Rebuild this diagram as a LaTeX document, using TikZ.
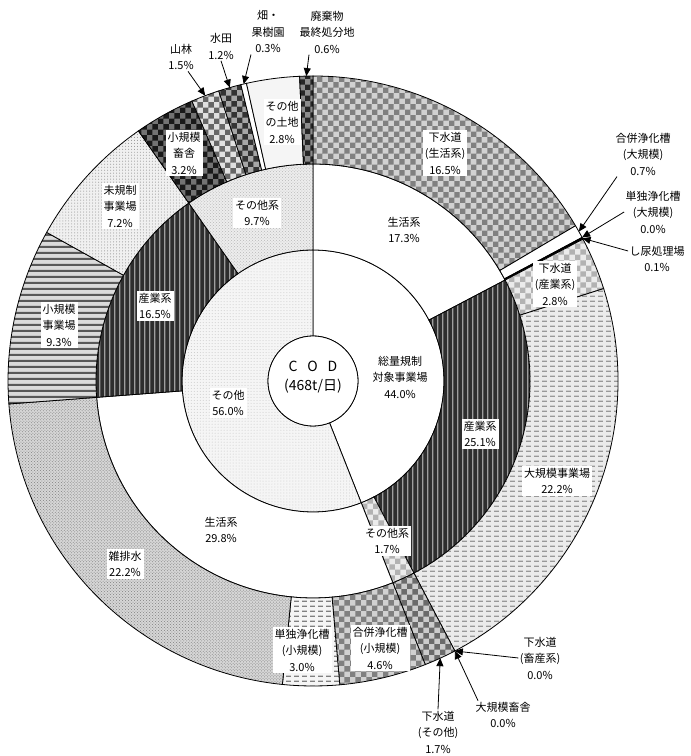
\documentclass[tikz,border=0pt]{standalone}
\usepackage{fontspec}
\setmainfont{Noto Sans CJK JP}
\usetikzlibrary{arrows.meta,patterns}

\pgfdeclarepatternformonly{hstripes}{\pgfpointorigin}{\pgfqpoint{10pt}{6pt}}{\pgfqpoint{10pt}{6pt}}{\pgfpathrectangle{\pgfpointorigin}{\pgfqpoint{10pt}{2.2pt}}\pgfusepath{fill}}
\pgfdeclarepatternformonly{vbars}{\pgfpointorigin}{\pgfqpoint{4.5pt}{10pt}}{\pgfqpoint{4.5pt}{10pt}}{\pgfpathrectangle{\pgfpointorigin}{\pgfqpoint{1.6pt}{10pt}}\pgfusepath{fill}}
\pgfdeclarepatternformonly{hdashes}{\pgfpointorigin}{\pgfqpoint{8pt}{5pt}}{\pgfqpoint{8pt}{5pt}}{\pgfpathrectangle{\pgfpointorigin}{\pgfqpoint{5pt}{1.5pt}}\pgfusepath{fill}}

\newcommand{\lblfont}{\fontsize{11bp}{16.5bp}\selectfont}
\newcommand{\codfont}{\fontsize{14bp}{19bp}\selectfont}
% ring part: [style]{inner r}{outer r}{from %}{to %}, clockwise from top
\newcommand{\ringpart}[5][]{%
  \path[draw,#1] ({90-3.6*#4}:#3) arc[start angle={90-3.6*#4},end angle={90-3.6*#5},radius=#3]
    -- ({90-3.6*#5}:#2) arc[start angle={90-3.6*#5},end angle={90-3.6*#4},radius=#2] -- cycle;}

\begin{document}
\begin{tikzpicture}[x=1bp,y=1bp,line width=0.8bp,
  sewerpat/.style={preaction={fill=black!18},pattern=checkerboard,pattern color=black!50},
  sewerltpat/.style={preaction={fill=black!8},pattern=checkerboard,pattern color=black!30},
  sewerdkpat/.style={preaction={fill=black!20},pattern=checkerboard,pattern color=black!58},
  indpat/.style={preaction={fill=black!82},pattern=vbars,pattern color=black!38},
  bigbizpat/.style={preaction={fill=black!8},pattern=hdashes,pattern color=black!40},
  tandokupat/.style={preaction={fill=black!4},pattern=hdashes,pattern color=black!50},
  zappaipat/.style={preaction={fill=black!16},pattern=crosshatch dots,pattern color=black!50},
  smallbizpat/.style={preaction={fill=black!14},pattern=hstripes,pattern color=black!65},
  unregpat/.style={preaction={fill=black!6},pattern=dots,pattern color=black!45},
  livepat/.style={preaction={fill=black!55},pattern=checkerboard,pattern color=black!90},
  forestpat/.style={preaction={fill=black!12},pattern=checkerboard,pattern color=black!60},
  paddypat/.style={preaction={fill=black!35},pattern=checkerboard,pattern color=black!80},
  wastepat/.style={preaction={fill=black!45},pattern=checkerboard,pattern color=black!85},
  otherpat/.style={preaction={fill=black!4},pattern=dots,pattern color=black!22},
  otherltpat/.style={preaction={fill=black!7},pattern=crosshatch dots,pattern color=black!28},
  lbl/.style={align=center,fill=white,inner sep=2bp,font=\lblfont},
  outlbl/.style={align=center,inner sep=1bp,font=\lblfont},
  arr/.style={-{Triangle[length=8bp,width=7bp]}}]
\useasboundingbox (0,0) rectangle (691,756);
\begin{scope}[shift={(313,375)}]
% inner ring
\ringpart[fill=white]{45}{131}{0}{44}
\ringpart[otherpat]{45}{131}{44}{100}
% middle ring
\ringpart[fill=white]{131}{217}{0}{17.3}
\ringpart[indpat]{131}{217}{17.3}{42.3}
\ringpart[sewerltpat]{131}{217}{42.3}{44}
\ringpart[fill=white]{131}{217}{44}{73.8}
\ringpart[indpat]{131}{217}{73.8}{90.3}
\ringpart[otherltpat]{131}{217}{90.3}{100}
% outer ring
\ringpart[sewerpat]{217}{305}{0}{16.5}
\ringpart[fill=white]{217}{305}{16.5}{17.2}
\ringpart[fill=black]{217}{305}{17.2}{17.3}
\ringpart[sewerltpat]{217}{305}{17.3}{20.1}
\ringpart[bigbizpat]{217}{305}{20.1}{42.3}
\ringpart[sewerdkpat]{217}{305}{42.3}{44}
\ringpart[sewerpat]{217}{305}{44}{48.6}
\ringpart[tandokupat]{217}{305}{48.6}{51.6}
\ringpart[zappaipat]{217}{305}{51.6}{73.8}
\ringpart[smallbizpat]{217}{305}{73.8}{83.1}
\ringpart[unregpat]{217}{305}{83.1}{90.3}
\ringpart[livepat]{217}{305}{90.3}{93.5}
\ringpart[forestpat]{217}{305}{93.5}{95}
\ringpart[paddypat]{217}{305}{95}{96.2}
\ringpart[fill=white]{217}{305}{96.2}{96.5}
\ringpart[fill=black!4]{217}{305}{96.5}{99.3}
\ringpart[wastepat]{217}{305}{99.3}{100}
% centre
\draw[fill=white] (0,0) circle[radius=45];
\node[font=\codfont,align=center,inner sep=0pt] (cod) at (0,4) {C\hspace{.7em}O\hspace{.7em}D\\(468t/日)};
% arrow targets on the rim
\coordinate (wastept) at ({90-3.6*99.65}:305);
\coordinate (hatapt) at ({90-3.6*96.35}:305);
\coordinate (paddypt) at ({90-3.6*95.6}:305);
\coordinate (forestpt) at ({90-3.6*94.25}:305);
\coordinate (gappeipt) at ({90-3.6*16.85}:305);
\coordinate (tandokupt) at ({90-3.6*17.2}:305);
\coordinate (shinyopt) at ({90-3.6*17.25}:305);
\coordinate (chikusanpt) at ({90-3.6*42.3}:305);
\coordinate (chikushapt) at ({90-3.6*42.3}:305);
\coordinate (sewerotherpt) at ({90-3.6*43.15}:305);
\end{scope}

% labels in the rings
\node[lbl] (sewerlife) at (445,603) {下水道\\(生活系)\\16.5\%};
\node[lbl] (otherland) at (282,634) {その他\\の土地\\2.8\%};
\node[lbl] (lifeA) at (404,526) {生活系\\17.3\%};
\node[lbl] (sewerind) at (555,472) {下水道\\(産業系)\\2.8\%};
\node[lbl] (bigbiz) at (557,275) {大規模事業場\\22.2\%};
\node[lbl] (indA) at (480,322) {産業系\\25.1\%};
\node[lbl] (regulated) at (400,379) {総量規制\\対象事業場\\44.0\%};
\node[lbl] (otherall) at (228,353) {その他\\56.0\%};
\node[lbl] (indB) at (155,450) {産業系\\16.5\%};
\node[lbl] (smallbiz) at (59,431) {小規模\\事業場\\9.3\%};
\node[lbl] (unreg) at (120,550) {未規制\\事業場\\7.2\%};
\node[lbl] (livestock) at (184,603) {小規模\\畜舎\\3.2\%};
\node[lbl] (otherB) at (257,543) {その他系\\9.7\%};
\node[lbl] (lifeB) at (221,226) {生活系\\29.8\%};
\node[lbl] (zappai) at (125,192) {雑排水\\22.2\%};
\node[lbl] (otherA) at (387,215) {その他系\\1.7\%};
\node[lbl] (tandokusmall) at (302,106) {単独浄化槽\\(小規模)\\3.0\%};
\node[lbl] (gappeismall) at (380,108) {合併浄化槽\\(小規模)\\4.6\%};

% labels outside with arrows
\node[outlbl] (waste) at (327,724) {廃棄物\\最終処分地\\0.6\%};
\node[outlbl] (hata) at (268,724) {畑・\\果樹園\\0.3\%};
\node[outlbl] (paddy) at (221,709.5) {水田\\1.2\%};
\node[outlbl] (forest) at (181,699) {山林\\1.5\%};
\node[outlbl] (gappeibig) at (643,602) {合併浄化槽\\(大規模)\\0.7\%};
\node[outlbl] (tandokubig) at (653,544) {単独浄化槽\\(大規模)\\0.0\%};
\node[outlbl] (shinyo) at (657,497) {し尿処理場\\0.1\%};
\node[outlbl] (chikusan) at (540,98) {下水道\\(畜産系)\\0.0\%};
\node[outlbl] (chikusha) at (503,41) {大規模畜舎\\0.0\%};
\node[outlbl] (sewerother) at (438,24) {下水道\\(その他)\\1.7\%};

\draw[arr] ([xshift=-18bp]waste.south) -- (wastept);
\draw[arr] ([xshift=-17bp]hata.south) -- (hatapt);
\draw[arr] (paddy.south) -- (paddypt);
\draw[arr] ([xshift=7bp]forest.south) -- (forestpt);
\draw[arr] ([xshift=-26bp]gappeibig.south) -- (gappeipt);
\draw[arr] (tandokubig.west) -- (tandokupt);
\draw[arr] ([yshift=8bp]shinyo.west) -- (shinyopt);
\draw[arr] (chikusan.west) -- (chikusanpt);
\draw[arr] ([xshift=-25bp]chikusha.north) -- (chikushapt);
\draw[arr] (sewerother.north) -- (sewerotherpt);
\end{tikzpicture}
\end{document}
